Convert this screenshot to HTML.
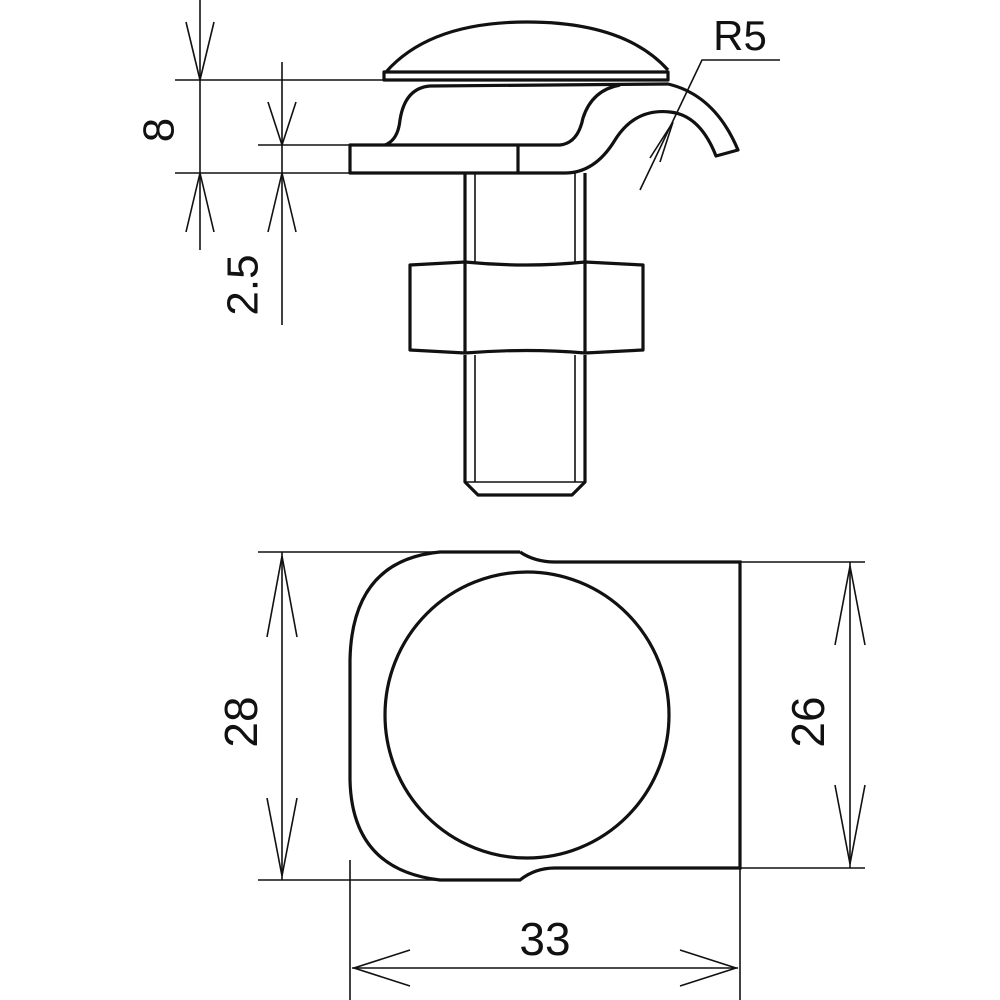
<!DOCTYPE html>
<html><head><style>body{margin:0;background:#fff}svg{display:block}</style></head>
<body>
<svg width="1000" height="1000" viewBox="0 0 1000 1000" xmlns="http://www.w3.org/2000/svg">
<g fill="none" stroke="#111" stroke-width="1.6">
<!-- dim 8 -->
<line x1="200" y1="0" x2="200" y2="250"/>
<line x1="175" y1="80" x2="395" y2="80"/>
<line x1="175" y1="173" x2="350" y2="173"/>
<path d="M186,22 L200,80 L214,22 M186,232 L200,173 L214,232"/>
<!-- dim 2.5 -->
<line x1="282" y1="62" x2="282" y2="325"/>
<line x1="258" y1="145" x2="350" y2="145"/>
<path d="M268,102 L282,145 L296,102 M268,232 L282,173 L296,232"/>
<!-- R5 leader -->
<path d="M640,190 L702,60 L780,60"/>
<path d="M650,158 L673,122 M660,162 L673,122"/>
</g>
<g fill="none" stroke="#111" stroke-width="3.2" stroke-linejoin="round">
<!-- dome cap -->
<path d="M386,72 Q430,22 527,22 Q625,22 668,70"/>
<path d="M384,72 L668,72 L668,80 L384,80 Z"/>
<!-- plate -->
<rect x="350" y="145" width="168" height="28"/>
<!-- clamp body -->
<path d="M385,145 Q398,140 400,120 Q405,88 430,86 L668,84 Q715,95 738,150 L716,156 Q700,115 670,112 Q635,108 615,140 Q595,173 565,173 L518,173"/>
<path d="M518,145 L560,145 Q578,143 583,118 Q592,90 620,85"/>
<!-- bolt -->
<path d="M465,173 L465,262 M585,173 L585,262"/>
<path d="M475,173 L475,262 M575,173 L575,262" stroke-width="1.6"/>
<!-- nut -->
<path d="M410,265 L465,262 Q527,268 585,262 L643,265 L643,350 L585,353 Q527,348 465,353 L410,350 Z"/>
<path d="M465,262 L465,353 M585,262 L585,353"/>
<!-- lower bolt -->
<path d="M465,355 L465,482 L478,495 L572,495 L585,482 L585,355"/>
<path d="M475,355 L475,482 M575,355 L575,482 M465,482 L585,482" stroke-width="1.6"/>
</g>
<text x="162" y="130" font-family="Liberation Sans, sans-serif" font-size="44" fill="#111" transform="rotate(-90 162 130)" text-anchor="middle" dominant-baseline="middle">8</text>
<text x="246" y="285" font-family="Liberation Sans, sans-serif" font-size="44" fill="#111" transform="rotate(-90 246 285)" text-anchor="middle" dominant-baseline="middle">2.5</text>
<text x="740" y="50" font-family="Liberation Sans, sans-serif" font-size="42" fill="#111" text-anchor="middle">R5</text>

<!-- bottom view -->
<g fill="none" stroke="#111" stroke-width="1.6">
<line x1="258" y1="552" x2="520" y2="552"/>
<line x1="258" y1="880" x2="520" y2="880"/>
<line x1="282" y1="552" x2="282" y2="880"/>
<path d="M267,637 L282,556 L297,637 M267,798 L282,876 L297,798"/>
<line x1="740" y1="562" x2="865" y2="562"/>
<line x1="740" y1="868" x2="865" y2="868"/>
<line x1="850" y1="562" x2="850" y2="868"/>
<path d="M835,645 L850,566 L865,645 M835,785 L850,864 L865,785"/>
<line x1="350" y1="860" x2="350" y2="1000"/>
<line x1="740" y1="868" x2="740" y2="1000"/>
<line x1="352" y1="968" x2="738" y2="968"/>
<path d="M410,950 L354,968 L410,986 M680,950 L736,968 L680,986"/>
</g>
<g fill="none" stroke="#111" stroke-width="3.2">
<path d="M520,552 L440,552 Q352,560 350,660 L350,780 Q352,870 440,880 L520,880 Q535,868 555,868 L740,868 L740,562 L555,562 Q535,562 520,552"/>
<ellipse cx="527" cy="715" rx="142" ry="143"/>
</g>
<text x="245" y="722" font-family="Liberation Sans, sans-serif" font-size="46" fill="#111" transform="rotate(-90 245 722)" text-anchor="middle" dominant-baseline="middle">28</text>
<text x="812" y="722" font-family="Liberation Sans, sans-serif" font-size="46" fill="#111" transform="rotate(-90 812 722)" text-anchor="middle" dominant-baseline="middle">26</text>
<text x="545" y="955" font-family="Liberation Sans, sans-serif" font-size="46" fill="#111" text-anchor="middle">33</text>
</svg>
</body></html>
